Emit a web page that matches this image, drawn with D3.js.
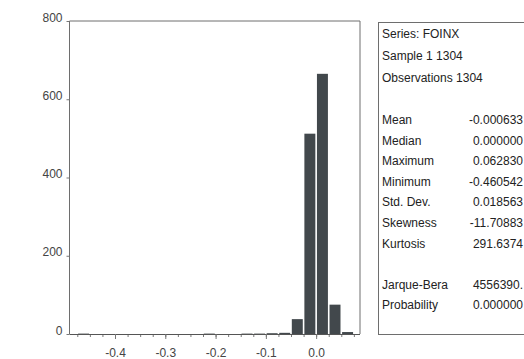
<!DOCTYPE html>
<html>
<head>
<meta charset="utf-8">
<script src="https://cdn.jsdelivr.net/npm/d3@7/dist/d3.min.js"></script>
<style>
  html, body { margin: 0; padding: 0; background: #fff; }
  svg { display: block; }
  .axis text { font-family: "Liberation Sans Narrow", "Arial Narrow", "Liberation Sans", sans-serif; font-size: 12px; fill: #444; }
  .stats text { font-family: "Liberation Sans Narrow", "Arial Narrow", "Liberation Sans", sans-serif; font-size: 12px; fill: #222; }
</style>
</head>
<body>
<script>
// Histogram of FOINX returns: lower bin edges (width 0.025) and counts
const binStarts = [-0.475, -0.225, -0.150, -0.125, -0.100, -0.075, -0.050, -0.025, 0.000, 0.025, 0.050];
const counts    = [1,       1,      1,      1,      2,      3,      38,     512,    665,   75,    5];
const binWidth = 0.025;

const xTickValues = [-0.4, -0.3, -0.2, -0.1, 0.0];
const yTickValues = [0, 200, 400, 600, 800];

// Descriptive statistics panel
const headerLines = ["Series: FOINX", "Sample 1 1304", "Observations 1304"];
const statNames  = ["Mean", "Median", "Maximum", "Minimum", "Std. Dev.", "Skewness", "Kurtosis"];
const statValues = ["-0.000633", "0.000000", "0.062830", "-0.460542", "0.018563", "-11.70883", "291.6374"];
const testNames  = ["Jarque-Bera", "Probability"];
const testValues = ["4556390.", "0.000000"];

const W = 524, H = 359;
const svg = d3.select("body").append("svg").attr("width", W).attr("height", H);

const plot = { left: 69.5, right: 360, top: 21, bottom: 334 };

const x = d3.scaleLinear().domain([-0.4905, 0.0872]).range([plot.left, plot.right]);
const y = d3.scaleLinear().domain([0, 800]).range([plot.bottom, plot.top]);

// frame (left, top, right)
svg.append("path")
  .attr("d", `M${plot.left},${plot.bottom}V${plot.top}H${plot.right}V${plot.bottom}`)
  .attr("fill", "none").attr("stroke", "#6e6e6e").attr("stroke-width", 1);

// bars
const bins = binStarts.map((s, i) => ({ x0: s, x1: s + binWidth, n: counts[i] }));
svg.append("g").selectAll("rect").data(bins).join("rect")
  .attr("x", d => x(d.x0) + 0.8)
  .attr("width", d => x(d.x1) - x(d.x0) - 1.6)
  .attr("y", d => y(d.n))
  .attr("height", d => Math.max(y(0) - y(d.n), 0.8))
  .attr("fill", "#42484c");

// minor x ticks at every bin edge
const minorTicks = d3.range(-0.475, 0.0751, 0.025).map(v => +v.toFixed(3));
svg.append("g").attr("class", "axis")
  .attr("transform", `translate(0,${plot.bottom})`)
  .call(d3.axisBottom(x).tickValues(minorTicks).tickSize(3).tickFormat(""))
  .call(g => g.select(".domain").remove())
  .call(g => g.selectAll("line").attr("stroke", "#777"));

// major x axis
svg.append("g").attr("class", "axis")
  .attr("transform", `translate(0,${plot.bottom})`)
  .call(d3.axisBottom(x).tickValues(xTickValues).tickSize(5).tickPadding(9).tickFormat(d => d.toFixed(1)))
  .call(g => g.select(".domain").attr("stroke", "#555").attr("d", `M${plot.left},0.5H${plot.right}`))
  .call(g => g.selectAll("line").attr("stroke", "#777"));

// y axis
svg.append("g").attr("class", "axis")
  .attr("transform", `translate(${plot.left},0)`)
  .call(d3.axisLeft(y).tickValues(yTickValues).tickSize(3).tickPadding(4).tickFormat(d3.format("d")))
  .call(g => g.select(".domain").remove())
  .call(g => g.selectAll("line").attr("stroke", "#777"))
  .call(g => g.selectAll("text").attr("dy", "0").attr("y", 0));

// statistics box
const box = { left: 378, top: 22, bottom: 334, right: 530 };
const stats = svg.append("g").attr("class", "stats");
stats.append("rect")
  .attr("x", box.left + 0.5).attr("y", box.top + 0.5)
  .attr("width", box.right - box.left).attr("height", box.bottom - box.top)
  .attr("fill", "none").attr("stroke", "#6e6e6e");

const textX = 382, valueX = 523;
const rowY = d3.scaleLinear().domain([0, 1]).range([0, 20.6]);
headerLines.forEach((t, i) => {
  stats.append("text").attr("x", textX).attr("y", 38 + i * 22).text(t);
});
statNames.forEach((t, i) => {
  const yy = 124 + rowY(i);
  stats.append("text").attr("x", textX).attr("y", yy).text(t);
  stats.append("text").attr("x", valueX).attr("y", yy).attr("text-anchor", "end").text(statValues[i]);
});
testNames.forEach((t, i) => {
  const yy = 124 + rowY(statNames.length + 1 + i);
  stats.append("text").attr("x", textX).attr("y", yy).text(t);
  stats.append("text").attr("x", valueX).attr("y", yy).attr("text-anchor", "end").text(testValues[i]);
});
</script>
</body>
</html>
